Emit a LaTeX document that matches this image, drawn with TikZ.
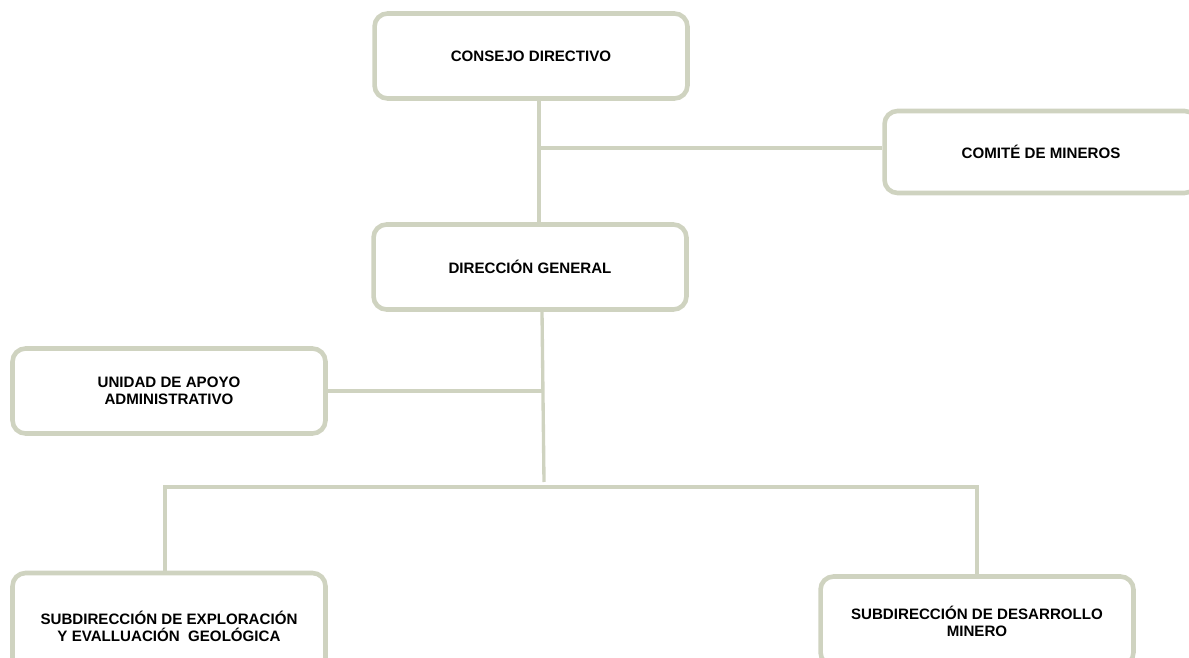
\documentclass[tikz,border=0pt]{standalone}
\usepackage{fontspec}
\setmainfont{Liberation Sans}
\usepackage{xcolor}
\usetikzlibrary{positioning}
\definecolor{boxline}{RGB}{207,211,192}

\begin{document}
\begin{tikzpicture}[
    x=0.02cm, y=-0.02cm,
    font=\fontsize{8.6}{9.8}\selectfont\bfseries,
    unit/.style={draw=boxline, line width=2.6pt, rounded corners=0.26cm, fill=white,
      align=center, minimum width=6.26cm, minimum height=1.7cm, inner sep=0pt},
    link/.style={draw=boxline, line width=1.9pt}
  ]
  \useasboundingbox (0,0) rectangle (1189,658);
  \clip (0,0) rectangle (1189,658);

  \node[unit] (cd) at (531,56) {CONSEJO DIRECTIVO};
  \node[unit, minimum height=1.64cm] (cm) at (1041,152) {COMIT\'E\ DE MINEROS};
  \node[unit] (dg) at (530,267) {DIRECCI\'ON GENERAL};
  \node[unit] (ua) at (169,391) {UNIDAD DE APOYO\\ADMINISTRATIVO};
  \node[unit, minimum height=2.12cm] (se) at (169,626) {SUBDIRECCI\'ON DE EXPLORACI\'ON\\Y EVALLUACI\'ON\ \ GEOL\'OGICA};
  \node[unit, minimum height=1.78cm] (sd) at (977,621) {SUBDIRECCI\'ON DE DESARROLLO\\MINERO};

  \coordinate (j1) at (539,148);
  \coordinate (j2) at (542,391);
  \coordinate (j3) at (544,482);
  \coordinate (b1) at (165,487);
  \coordinate (b2) at (977,487);

  \draw[link] (cd.south -| j1) -- (dg.north -| j1);
  \draw[link] (j1) -- (cm.west |- j1);
  \draw[link] (dg.south -| j2) -- (j3);
  \draw[link] (ua.east |- j2) -- (j2);
  \draw[link] (se.north -| b1) -- (b1) -- (b2) -- (sd.north -| b2);
\end{tikzpicture}
\end{document}
